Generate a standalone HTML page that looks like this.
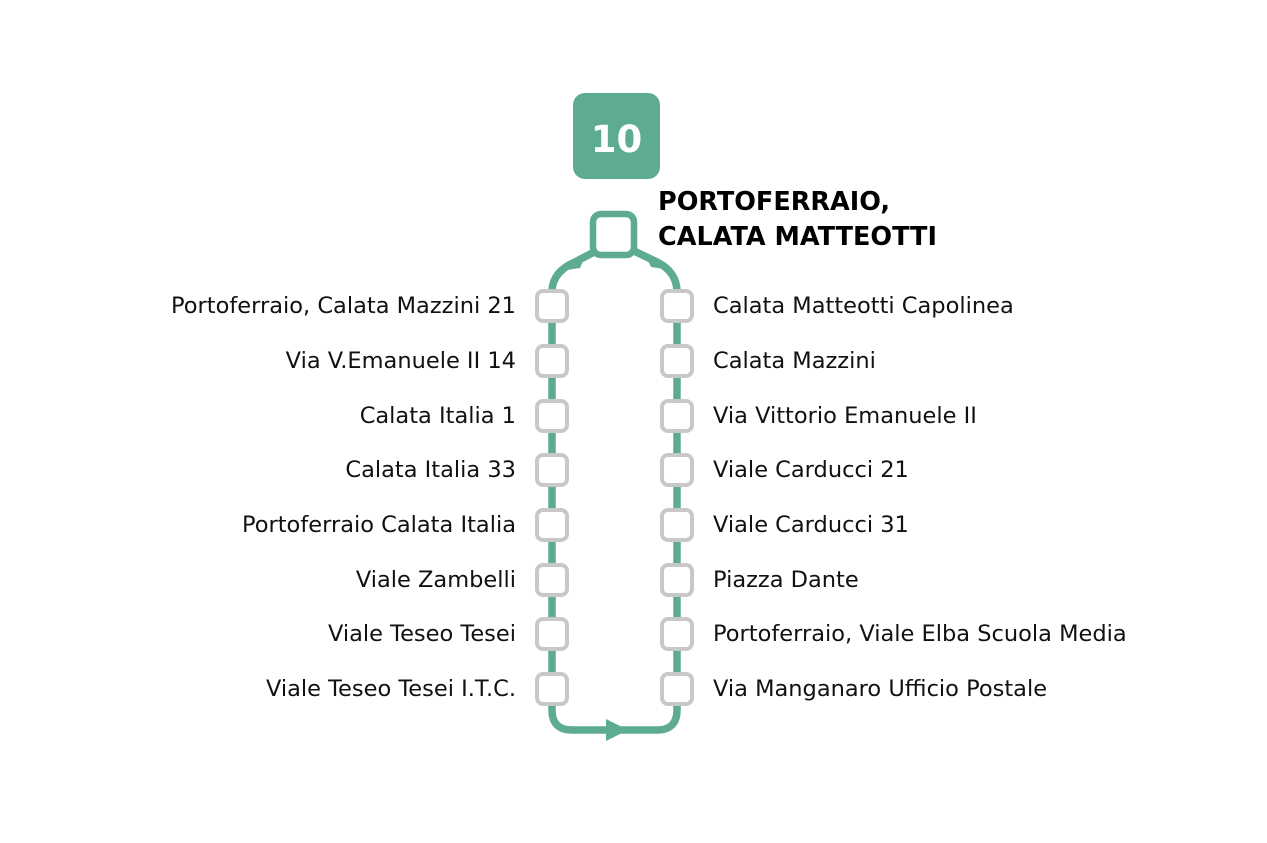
<!DOCTYPE html>
<html><head><meta charset="utf-8"><style>
html,body{margin:0;padding:0;background:#fff;}
body{width:1267px;height:843px;position:relative;overflow:hidden;font-family:"DejaVu Sans","Liberation Sans",sans-serif;}
.l,.r{position:absolute;font-size:22.5px;color:#111;line-height:26px;white-space:nowrap;letter-spacing:0}
.l{right:751px;text-align:right}
.r{left:713px}
</style></head><body>
<svg width="1267" height="843" style="position:absolute;left:0;top:0">
<rect x="573" y="93" width="87" height="86" rx="12" fill="#5dab93"/>
<text x="616.5" y="152" text-anchor="middle" font-family="DejaVu Sans, Liberation Sans, sans-serif" font-weight="bold" font-size="37" fill="#fff">10</text>
<g fill="none" stroke="#5dab93" stroke-width="7.5" stroke-linejoin="round">
<path d="M598 250 L575 262 Q552 272 552 292 L552 710 Q552 730 572 730 L657 730 Q677 730 677 710 L677 292 Q677 272 657 262 L632 250"/>
</g>
<polygon points="560,271 586,254 580,268" fill="#5dab93"/>
<polygon points="671,270 645,254 651,267" fill="#5dab93"/>
<polygon points="628,730 606,719 606,741" fill="#5dab93"/>
<rect x="593" y="214" width="41" height="41" rx="8" fill="#fff" stroke="#5dab93" stroke-width="6.5"/>
<g fill="#fff" stroke="#c8c8c8" stroke-width="4">
<rect x="537" y="291" width="30" height="30" rx="6"/><rect x="537" y="346" width="30" height="30" rx="6"/>
<rect x="537" y="401" width="30" height="30" rx="6"/><rect x="537" y="455" width="30" height="30" rx="6"/>
<rect x="537" y="510" width="30" height="30" rx="6"/><rect x="537" y="565" width="30" height="30" rx="6"/>
<rect x="537" y="619" width="30" height="30" rx="6"/><rect x="537" y="674" width="30" height="30" rx="6"/>
<rect x="662" y="291" width="30" height="30" rx="6"/><rect x="662" y="346" width="30" height="30" rx="6"/>
<rect x="662" y="401" width="30" height="30" rx="6"/><rect x="662" y="455" width="30" height="30" rx="6"/>
<rect x="662" y="510" width="30" height="30" rx="6"/><rect x="662" y="565" width="30" height="30" rx="6"/>
<rect x="662" y="619" width="30" height="30" rx="6"/><rect x="662" y="674" width="30" height="30" rx="6"/>
</g>
<text x="658" y="210" font-family="DejaVu Sans, Liberation Sans, sans-serif" font-weight="bold" font-size="25.5" fill="#000">PORTOFERRAIO,</text>
<text x="658" y="245" font-family="DejaVu Sans, Liberation Sans, sans-serif" font-weight="bold" font-size="25.5" fill="#000">CALATA MATTEOTTI</text>
</svg>
<div class="l" style="top:293px">Portoferraio, Calata Mazzini 21</div>
<div class="l" style="top:348px">Via V.Emanuele II 14</div>
<div class="l" style="top:403px">Calata Italia 1</div>
<div class="l" style="top:457px">Calata Italia 33</div>
<div class="l" style="top:512px">Portoferraio Calata Italia</div>
<div class="l" style="top:567px">Viale Zambelli</div>
<div class="l" style="top:621px">Viale Teseo Tesei</div>
<div class="l" style="top:676px">Viale Teseo Tesei I.T.C.</div>
<div class="r" style="top:293px">Calata Matteotti Capolinea</div>
<div class="r" style="top:348px">Calata Mazzini</div>
<div class="r" style="top:403px">Via Vittorio Emanuele II</div>
<div class="r" style="top:457px">Viale Carducci 21</div>
<div class="r" style="top:512px">Viale Carducci 31</div>
<div class="r" style="top:567px">Piazza Dante</div>
<div class="r" style="top:621px">Portoferraio, Viale Elba Scuola Media</div>
<div class="r" style="top:676px">Via Manganaro Ufficio Postale</div>
</body></html>
